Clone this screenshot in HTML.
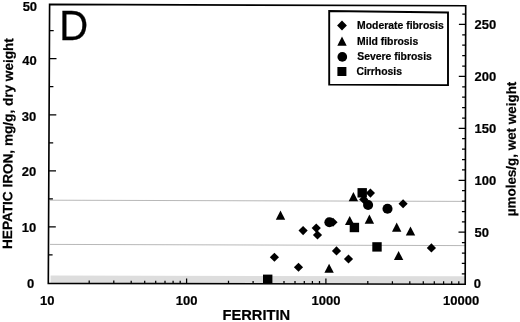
<!DOCTYPE html>
<html><head><meta charset="utf-8">
<style>
html,body{margin:0;padding:0;background:#fff;}
body{width:520px;height:322px;overflow:hidden;}
svg{display:block;}
text{font-family:"Liberation Sans",Arial,sans-serif;fill:#000;}
.b{font-weight:bold;stroke:#000;stroke-width:0.2px;}
</style></head>
<body>
<svg width="520" height="322" viewBox="0 0 520 322">
<rect width="520" height="322" fill="#fff"/>
<path d="M50.6 275.6 L465 276.2 L465 283.6 L50.6 283 Z" fill="#dddddd"/>
<line x1="50" y1="200.2" x2="466" y2="201.4" stroke="#b0b0b0" stroke-width="0.9"/>
<line x1="50" y1="244.4" x2="466" y2="245.6" stroke="#b0b0b0" stroke-width="0.9"/>
<path d="M48.4 254.9h4.2 M48.6 226.9h7.2 M48.7 198.9h4.2 M48.8 170.8h7.2 M49.0 142.8h4.2 M49.1 114.8h7.2 M49.2 86.7h4.2 M49.3 58.7h7.2 M49.5 30.6h4.2 M465.2 273.8h-3.4 M465.2 263.4h-3.4 M465.3 253.0h-3.4 M465.3 242.6h-3.4 M465.3 232.2h-6.8 M465.3 221.9h-3.4 M465.3 211.5h-3.4 M465.3 201.1h-3.4 M465.4 190.7h-3.4 M465.4 180.3h-6.8 M465.4 169.9h-3.4 M465.4 159.5h-3.4 M465.4 149.1h-3.4 M465.5 138.7h-3.4 M465.5 128.3h-6.8 M465.5 118.0h-3.4 M465.5 107.6h-3.4 M465.5 97.2h-3.4 M465.6 86.8h-3.4 M465.6 76.4h-6.8 M465.6 66.0h-3.4 M465.6 55.6h-3.4 M465.6 45.2h-3.4 M465.6 34.8h-3.4 M465.7 24.4h-6.8 M465.7 14.1h-3.4 M89.2 283.5v-2.9 M113.8 283.5v-2.9 M131.2 283.6v-2.9 M144.7 283.6v-2.9 M155.7 283.6v-2.9 M165.0 283.6v-2.9 M173.1 283.6v-2.9 M180.2 283.7v-2.9 M186.6 283.7v-5.3 M228.5 283.7v-2.9 M253.1 283.8v-2.9 M270.5 283.8v-2.9 M284.0 283.9v-2.9 M295.0 283.9v-2.9 M304.3 283.9v-2.9 M312.4 283.9v-2.9 M319.5 283.9v-2.9 M325.9 283.9v-5.3 M367.8 284.0v-2.9 M392.4 284.1v-2.9 M409.8 284.1v-2.9 M423.3 284.1v-2.9 M434.3 284.1v-2.9 M443.6 284.2v-2.9 M451.7 284.2v-2.9 M458.8 284.2v-2.9" stroke="#000" stroke-width="1.25" fill="none"/>
<path d="M49.6 4.4 L48.3 283.4 L465.2 284.2 L465.7 5.75 Z" stroke="#000" stroke-width="1.65" fill="none" stroke-linejoin="miter"/>
<text class="b" x="37.1" y="10.8" font-size="13" text-anchor="end">50</text>
<text class="b" x="36.8" y="65" font-size="13" text-anchor="end">40</text>
<text class="b" x="36.2" y="121.2" font-size="13" text-anchor="end">30</text>
<text class="b" x="36.2" y="176.1" font-size="13" text-anchor="end">20</text>
<text class="b" x="36.2" y="231.9" font-size="13" text-anchor="end">10</text>
<text class="b" x="34.3" y="287.6" font-size="13" text-anchor="end">0</text>
<text class="b" x="474.6" y="29" font-size="13">250</text>
<text class="b" x="474.6" y="80.5" font-size="13">200</text>
<text class="b" x="474.6" y="133.2" font-size="13">150</text>
<text class="b" x="474.6" y="184.9" font-size="13">100</text>
<text class="b" x="474.6" y="236.8" font-size="13">50</text>
<text class="b" x="473.7" y="288.1" font-size="13">0</text>
<text class="b" x="47.3" y="304.7" font-size="13" text-anchor="middle">10</text>
<text class="b" x="186.6" y="304.7" font-size="13" text-anchor="middle">100</text>
<text class="b" x="325.9" y="304.7" font-size="13" text-anchor="middle">1000</text>
<text class="b" x="461.2" y="304.7" font-size="13" text-anchor="middle">10000</text>
<text class="b" x="222.5" y="319.7" font-size="14" textLength="67.6" lengthAdjust="spacingAndGlyphs">FERRITIN</text>
<text x="59.3" y="40.1" font-size="42" stroke="#000" stroke-width="0.3" textLength="28.9" lengthAdjust="spacingAndGlyphs">D</text>
<text class="b" transform="translate(11.95,249.0) rotate(-89.67)" font-size="13.5" textLength="210.9" lengthAdjust="spacingAndGlyphs">HEPATIC IRON, mg/g, dry weight</text>
<text class="b" transform="translate(515.5,216.2) rotate(-89.75)" font-size="13.5" textLength="134.5" lengthAdjust="spacingAndGlyphs">µmoles/g, wet weight</text>
<path d="M329.2 11 L329.2 84.6 L448 85.1 L448 12.5 Z" stroke="#000" stroke-width="1.9" fill="#fff"/>
<g fill="#000">
<path d="M337.10 25.50L342.00 20.60L346.90 25.50L342.00 30.40Z"/>
<path d="M337.30 45.80L342.00 36.60L346.70 45.80Z"/>
<circle cx="342.30" cy="56.90" r="4.85"/>
<rect x="337.40" y="67.00" width="9.00" height="9.00"/>
<path d="M269.80 257.25L274.40 252.65L279.00 257.25L274.40 261.85Z"/>
<path d="M293.90 267.25L298.50 262.65L303.10 267.25L298.50 271.85Z"/>
<path d="M298.50 230.60L303.10 226.00L307.70 230.60L303.10 235.20Z"/>
<path d="M311.65 228.10L316.25 223.50L320.85 228.10L316.25 232.70Z"/>
<path d="M312.90 235.00L317.50 230.40L322.10 235.00L317.50 239.60Z"/>
<path d="M328.40 222.25L333.00 217.65L337.60 222.25L333.00 226.85Z"/>
<path d="M331.90 250.90L336.50 246.30L341.10 250.90L336.50 255.50Z"/>
<path d="M343.90 259.00L348.50 254.40L353.10 259.00L348.50 263.60Z"/>
<path d="M359.15 199.40L363.75 194.80L368.35 199.40L363.75 204.00Z"/>
<path d="M365.80 193.10L370.40 188.50L375.00 193.10L370.40 197.70Z"/>
<path d="M398.50 203.75L403.10 199.15L407.70 203.75L403.10 208.35Z"/>
<path d="M426.80 247.90L431.40 243.30L436.00 247.90L431.40 252.50Z"/>
<path d="M275.80 219.70L280.50 210.50L285.20 219.70Z"/>
<path d="M324.40 272.85L329.10 263.65L333.80 272.85Z"/>
<path d="M345.00 225.10L349.70 215.90L354.40 225.10Z"/>
<path d="M348.70 201.30L353.40 192.10L358.10 201.30Z"/>
<path d="M364.70 223.70L369.40 214.50L374.10 223.70Z"/>
<path d="M392.00 231.70L396.70 222.50L401.40 231.70Z"/>
<path d="M405.80 235.60L410.50 226.40L415.20 235.60Z"/>
<path d="M393.90 260.10L398.60 250.90L403.30 260.10Z"/>
<circle cx="329.40" cy="222.25" r="5.05"/>
<circle cx="368.10" cy="205.00" r="5.05"/>
<circle cx="387.50" cy="208.75" r="5.05"/>
<rect x="263.00" y="274.60" width="9.40" height="9.40"/>
<rect x="349.70" y="222.80" width="9.40" height="9.40"/>
<rect x="357.50" y="188.10" width="9.40" height="9.40"/>
<rect x="372.30" y="242.20" width="9.40" height="9.40"/>
</g>
<text class="b" x="357.1" y="29.2" font-size="10.4">Moderate fibrosis</text>
<text class="b" x="357.1" y="44.6" font-size="10.4">Mild fibrosis</text>
<text class="b" x="357.3" y="59.5" font-size="10.4">Severe fibrosis</text>
<text class="b" x="356.4" y="74.9" font-size="10.4">Cirrhosis</text>
</svg>
</body></html>
